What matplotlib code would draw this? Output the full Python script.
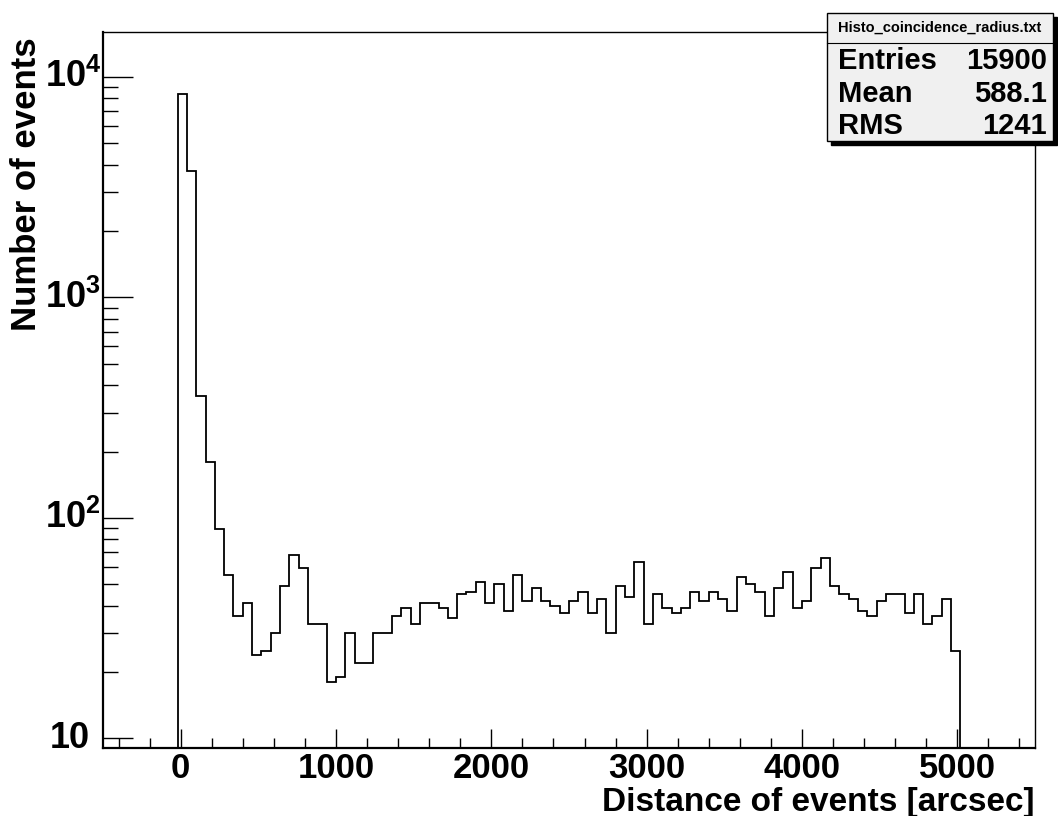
import matplotlib
matplotlib.use("Agg")
import matplotlib.pyplot as plt
import numpy as np
from matplotlib.patches import Rectangle
from matplotlib.ticker import FixedLocator, NullFormatter
from matplotlib.transforms import blended_transform_factory

plt.rcParams['font.family'] = ['Liberation Sans', 'DejaVu Sans']
plt.rcParams['font.weight'] = 'bold'
plt.rcParams['mathtext.fontset'] = 'custom'
plt.rcParams['mathtext.rm'] = 'Liberation Sans:bold'
plt.rcParams['mathtext.bf'] = 'Liberation Sans:bold'

# histogram: 60 arcsec bins starting at -20
bin_start = -20
bin_width = 60
counts = [8340, 3730, 358, 180, 89, 55, 36, 41, 24, 25,
          30, 49, 68, 59, 33, 33, 18, 19, 30, 22,
          22, 30, 30, 36, 39, 33, 41, 41, 39, 35,
          45, 46, 51, 41, 50, 38, 55, 42, 48, 42,
          40, 37, 42, 46, 37, 43, 30, 49, 44, 63,
          33, 45, 39, 37, 39, 46, 42, 46, 43, 38,
          54, 50, 46, 36, 48, 57, 39, 42, 59, 66,
          49, 45, 43, 38, 36, 42, 45, 45, 37, 45,
          33, 36, 43, 25]

x_ticks = [0, 1000, 2000, 3000, 4000, 5000]
y_ticks = [10, 100, 1000, 10000]
y_labels = ['10', r'$\mathbf{10^{2}}$', r'$\mathbf{10^{3}}$', r'$\mathbf{10^{4}}$']

stats_title = "Histo_coincidence_radius.txt"
stats_names = ["Entries", "Mean", "RMS"]
stats_values = ["15900", "588.1", "1241"]

W, H = 1058, 816
fig = plt.figure(figsize=(W / 100, H / 100), dpi=100)
ax = fig.add_axes([103 / W, 1 - 748 / H, (1035 - 103) / W, (748 - 32) / H])

edges = bin_start + bin_width * np.arange(len(counts) + 1)
ax.stairs(counts, edges, baseline=1, color='black', linewidth=1.3)

ax.set_yscale('log')
ax.set_xlim(-500, 5500)
ax.set_ylim(9.05, 16000)

for s in ['top', 'right']:
    ax.spines[s].set_linewidth(1.0)
for s in ['bottom', 'left']:
    ax.spines[s].set_linewidth(1.6)

ax.set_xticks(x_ticks)
ax.xaxis.set_minor_locator(FixedLocator(np.arange(-400, 5500, 200)))
ax.set_yticks(y_ticks)
ax.set_yticklabels([])
ax.yaxis.set_minor_locator(FixedLocator([m * 10 ** d for d in range(0, 5) for m in range(2, 10)]))
ax.yaxis.set_minor_formatter(NullFormatter())

ax.tick_params(axis='x', which='major', direction='in', length=13.5, width=1.0, labelsize=25, pad=3)
ax.tick_params(axis='x', which='minor', direction='in', length=7, width=1.0)
ax.tick_params(axis='y', which='major', direction='in', length=21.5, width=1.0)
ax.tick_params(axis='y', which='minor', direction='in', length=11, width=1.0)
for lab in ax.get_xticklabels():
    lab.set_fontweight('bold')

# y tick labels placed by hand, ROOT style (exponent sticks out to the right)
ytrans = blended_transform_factory(fig.transFigure, ax.transData)
for v, lab in zip(y_ticks, y_labels):
    xr = 90 / W if v == 10 else 101 / W
    ax.text(xr, v, lab, transform=ytrans, ha='right', va='center', fontsize=26,
            fontweight='bold', clip_on=False)


def px(x, y):
    return x / W, 1 - y / H


fig.text(*px(1035, 811), "Distance of events [arcsec]", ha='right', va='baseline',
         fontsize=24, fontweight='bold')
fig.text(*px(27, 37), "Number of events", ha='center', va='top', rotation=90,
         fontsize=25, fontweight='bold')

# stats box
bx0, by0, bx1, by1 = 827, 13, 1053, 141
shadow = Rectangle(px(bx0 + 4, by1 + 4), (bx1 - bx0) / W, (by1 - by0) / H,
                   transform=fig.transFigure, facecolor='black', edgecolor='black', zorder=5)
box = Rectangle(px(bx0, by1), (bx1 - bx0) / W, (by1 - by0) / H,
                transform=fig.transFigure, facecolor='#f0f0f0', edgecolor='black',
                linewidth=1.0, zorder=6)
fig.patches.extend([shadow, box])
fig.lines.append(plt.Line2D([bx0 / W, bx1 / W], [1 - 43 / H, 1 - 43 / H],
                            transform=fig.transFigure, color='black', linewidth=0.8, zorder=7))
fig.text(*px((bx0 + bx1) / 2, 28), stats_title, ha='center', va='center',
         fontsize=10.5, fontweight='bold', zorder=8)
row_y = [61, 94, 126]
for name, val, y in zip(stats_names, stats_values, row_y):
    fig.text(*px(838, y), name, ha='left', va='center', fontsize=21, fontweight='bold', zorder=8)
    fig.text(*px(1047, y), val, ha='right', va='center', fontsize=21, fontweight='bold', zorder=8)

fig.savefig('out.png', dpi=100)
